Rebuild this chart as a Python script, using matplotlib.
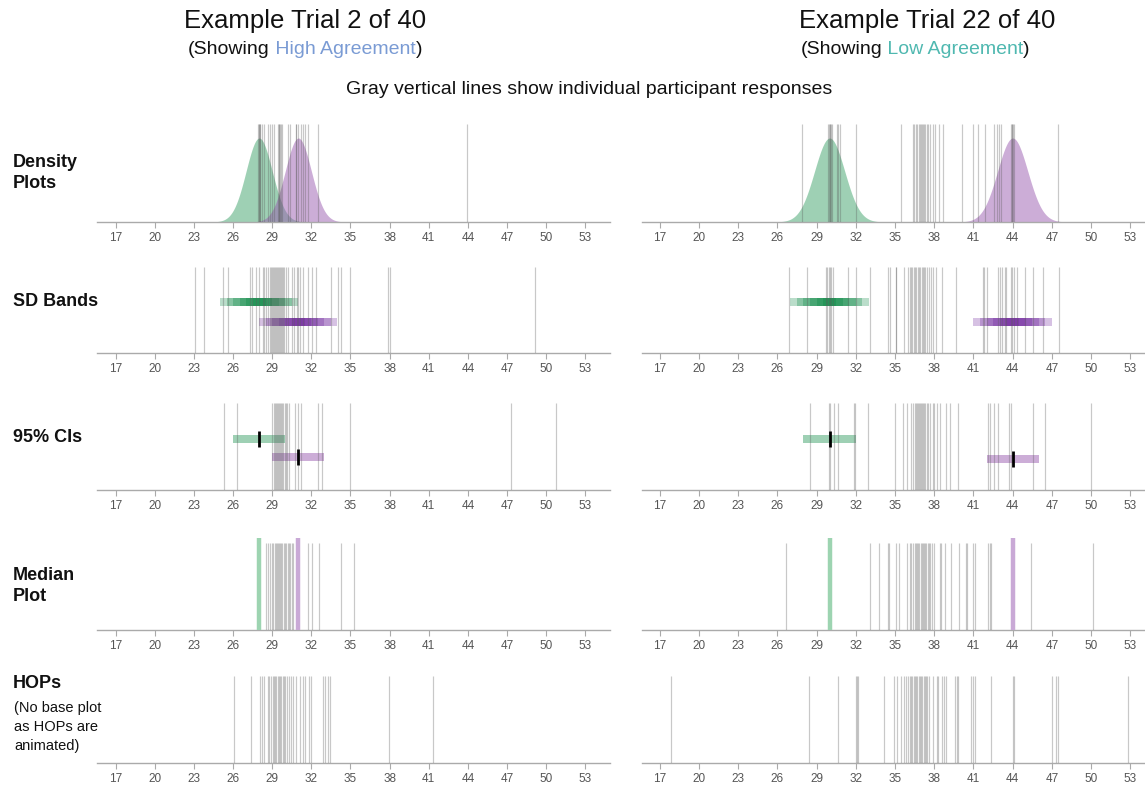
import numpy as np
import matplotlib
matplotlib.use("Agg")
import matplotlib.pyplot as plt
from matplotlib.offsetbox import TextArea, HPacker, AnnotationBbox

FONT = ["Liberation Sans", "DejaVu Sans"]
plt.rcParams["font.family"] = FONT

# ---------------- data ----------------
ticks = list(range(17, 54, 3))

# model distributions (green = A, purple = B)
left_means = [28, 31]
right_means = [30, 44]
left_sd = [1.0, 1.0]
right_sd = [1.15, 1.15]
left_ci = [(26, 30), (29, 33)]
right_ci = [(28, 32), (42, 46)]
left_medians = [28, 31]
right_medians = [30, 44]

# participant responses (gray lines)
left_density_resp = [27.92, 27.96, 28.0, 28.05, 28.1, 28.2, 28.4, 28.7, 28.85, 28.95, 29.15, 29.45,
                     29.5, 29.55, 29.6, 29.65, 29.72, 30.2, 30.38, 30.8, 30.85, 30.95, 31.2, 31.36,
                     31.52, 31.72, 32.54, 43.96]
right_density_resp = [27.92, 29.86, 29.95, 30.0, 30.05, 30.1, 30.2, 30.55, 30.67, 30.8, 32.03, 35.49,
                      36.36, 36.46, 36.57, 36.67, 36.8, 36.92, 37.0, 37.05, 37.12, 37.18, 37.31, 37.43,
                      37.56, 37.69, 37.89, 38.07, 38.4, 38.66, 40.14, 40.93, 41.31, 41.9, 42.59, 42.79,
                      42.97, 43.1, 43.86, 43.92, 43.96, 44.02, 44.07, 47.48]
left_sd_resp = [23.11, 23.8, 25.25, 25.64, 27.32, 27.43, 27.78, 28.01, 28.27, 28.4, 28.53, 28.65, 28.83,
                28.9, 28.98, 29.05, 29.12, 29.2, 29.28, 29.35, 29.43, 29.5, 29.58, 29.65, 29.72, 29.8,
                29.9, 30.03, 30.24, 30.49, 30.7, 30.88, 31.0, 31.11, 31.36, 31.72, 32.08, 32.39, 33.53,
                34.07, 34.25, 34.99, 37.9, 38.03, 49.17]
right_sd_resp = [26.9, 28.25, 29.73, 29.83, 29.93, 30.04, 30.14, 30.29, 31.39, 32.03, 33.05, 34.45, 34.65,
                 35.04, 35.11, 35.65, 36.03, 36.13, 36.23, 36.33, 36.43, 36.53, 36.63, 36.73, 36.83,
                 36.93, 37.03, 37.13, 37.23, 37.33, 37.43, 37.59, 37.74, 37.89, 38.12, 38.58, 39.7,
                 41.74, 41.8, 42.05, 42.89, 43.05, 43.22, 43.4, 43.48, 43.86, 43.96, 44.12, 44.3,
                 44.91, 45.57, 46.34, 47.56]
left_ci_resp = [25.31, 26.3, 29.01, 29.1, 29.18, 29.27, 29.35, 29.44, 29.52, 29.6, 29.69, 29.77, 29.86,
                29.95, 30.03, 30.16, 30.31, 30.75, 31.0, 31.21, 32.54, 32.84, 34.99, 47.31, 50.78]
right_ci_resp = [28.53, 29.96, 30.06, 30.37, 30.67, 31.9, 31.97, 32.94, 35.01, 35.62, 35.9, 36.21, 36.41,
                 36.5, 36.58, 36.66, 36.75, 36.83, 36.92, 37.0, 37.08, 37.17, 37.25, 37.33, 37.42,
                 37.56, 37.69, 37.94, 38.02, 38.2, 38.45, 38.91, 39.17, 39.78, 42.08, 42.28, 42.59,
                 42.84, 43.73, 43.89, 45.52, 46.49, 49.98]
left_median_resp = [28.55, 28.68, 28.81, 28.96, 29.09, 29.24, 29.3, 29.37, 29.44, 29.51, 29.58, 29.65,
                    29.73, 29.88, 29.98, 30.08, 30.18, 30.28, 30.38, 30.49, 30.6, 31.77, 32.05, 32.59,
                    34.28, 35.3]
right_median_resp = [26.69, 33.05, 33.81, 34.45, 34.53, 35.06, 35.34, 35.9, 36.11, 36.21, 36.41, 36.5,
                     36.59, 36.68, 36.77, 36.86, 36.95, 37.04, 37.13, 37.22, 37.31, 37.4, 37.49, 37.58,
                     37.69, 37.82, 38.0, 38.45, 38.53, 38.86, 39.3, 39.86, 40.42, 40.49, 41.0, 41.08,
                     42.15, 42.23, 42.36, 45.37, 50.11]
left_hops_resp = [26.05, 27.38, 28.04, 28.19, 28.4, 28.64, 28.79, 28.94, 29.03, 29.13, 29.22, 29.32,
                  29.41, 29.51, 29.6, 29.7, 29.79, 29.89, 29.99, 30.14, 30.29, 30.44, 30.62, 30.8,
                  31.14, 31.35, 31.53, 31.8, 31.95, 32.91, 33.06, 33.3, 33.45, 37.96, 41.3]
right_hops_resp = [17.84, 28.44, 30.67, 32.0, 32.08, 32.15, 34.14, 34.96, 35.14, 35.45, 35.66, 35.83,
                   35.99, 36.14, 36.23, 36.33, 36.42, 36.52, 36.61, 36.71, 36.8, 36.9, 36.99, 37.09,
                   37.18, 37.28, 37.37, 37.47, 37.57, 37.88, 38.21, 38.31, 38.59, 38.72, 38.93, 39.59,
                   39.72, 39.85, 40.82, 40.97, 41.08, 42.33, 44.02, 44.07, 47.04, 47.34, 47.47, 52.84]

row_labels = ["Density\nPlots", "SD Bands", "95% CIs", "Median\nPlot", "HOPs"]

# ---------------- style ----------------
W, H = 1145, 788
GREEN_FILL = "#3fa36b"
PURPLE_FILL = "#9a5cb0"
GREEN_DARK = "#00843d"
PURPLE_DARK = "#6a1b9a"
GREEN_MED = "#9dd4b1"
PURPLE_MED = "#c9a9d6"
GRAY = "#5a5a5a"

fig = plt.figure(figsize=(W / 100, H / 100), dpi=100)

rows = [(124, 222), (267, 353), (403, 490), (538, 630), (676, 763)]
cols = [(97, 610, 15.57, 54.89), (642, 1145, 15.65, 54.12)]


def make_ax(col, row):
    x0, x1, lo, hi = cols[col]
    yt, yb = rows[row]
    ax = fig.add_axes([x0 / W, 1 - yb / H, (x1 - x0) / W, (yb - yt) / H])
    ax.set_xlim(lo, hi)
    ax.set_ylim(0, 1)
    for s in ["left", "right", "top"]:
        ax.spines[s].set_visible(False)
    ax.spines["bottom"].set_color("#aaaaaa")
    ax.spines["bottom"].set_linewidth(1)
    ax.set_yticks([])
    ax.set_xticks(ticks)
    ax.tick_params(axis="x", length=4, color="#aaaaaa", labelsize=8.5,
                   labelcolor="#555555", pad=3)
    return ax


def resp_lines(ax, vals, top=1.0):
    ax.vlines(vals, 0, top, color=GRAY, alpha=0.33, lw=0.85, zorder=3)


data = [
    dict(means=left_means, sd=left_sd, ci=left_ci, med=left_medians,
         resp=[left_density_resp, left_sd_resp, left_ci_resp, left_median_resp, left_hops_resp],
         ci_y=(0.586, 0.379)),
    dict(means=right_means, sd=right_sd, ci=right_ci, med=right_medians,
         resp=[right_density_resp, right_sd_resp, right_ci_resp, right_median_resp, right_hops_resp],
         ci_y=(0.586, 0.356)),
]

for c, d in enumerate(data):
    # density
    ax = make_ax(c, 0)
    xs = np.linspace(cols[c][2], cols[c][3], 600)
    for m, s, col in zip(d["means"], d["sd"], [GREEN_FILL, PURPLE_FILL]):
        ys = 0.857 * np.exp(-0.5 * ((xs - m) / s) ** 2)
        ax.fill_between(xs, 0, ys, color=col, alpha=0.5, lw=0, zorder=2)
    resp_lines(ax, d["resp"][0])

    # SD bands
    ax = make_ax(c, 1)
    for m, col, y in zip(d["means"], [GREEN_DARK, PURPLE_DARK], [0.593, 0.36]):
        for k in range(1, 7):
            half = 0.5 * k
            ax.barh(y, 2 * half, left=m - half, height=0.093, color=col, alpha=0.27,
                    lw=0, zorder=2)
    resp_lines(ax, d["resp"][1])

    # CIs
    ax = make_ax(c, 2)
    for (lo, hi), m, col, y in zip(d["ci"], d["means"], [GREEN_FILL, PURPLE_FILL], d["ci_y"]):
        ax.barh(y, hi - lo, left=lo, height=0.092, color=col, alpha=0.5, lw=0, zorder=2)
        ax.vlines(m, y - 0.092, y + 0.092, color="black", lw=2, zorder=5)
    resp_lines(ax, d["resp"][2])

    # Median
    ax = make_ax(c, 3)
    for m, col in zip(d["med"], [GREEN_MED, PURPLE_MED]):
        ax.vlines(m, 0, 1, color=col, lw=3.2, zorder=4)
    resp_lines(ax, d["resp"][3], top=0.946)

    # HOPs
    ax = make_ax(c, 4)
    resp_lines(ax, d["resp"][4])

# ---------------- text ----------------
def fy(y):
    return 1 - y / H


fig.text(305 / W, fy(21), "Example Trial 2 of 40", ha="center", va="center", fontsize=18.5, color="#111111")
fig.text(927 / W, fy(21), "Example Trial 22 of 40", ha="center", va="center", fontsize=18.5, color="#111111")


def colored_line(parts, x, y, size=14):
    boxes = [TextArea(t, textprops=dict(color=col, fontsize=size, family=FONT)) for t, col in parts]
    pack = HPacker(children=boxes, align="baseline", pad=0, sep=0)
    ab = AnnotationBbox(pack, (x / W, fy(y)), xycoords="figure fraction", frameon=False,
                        box_alignment=(0.5, 0.5), pad=0)
    fig.add_artist(ab)


colored_line([("(Showing", "#111111"), (" High Agreement", "#7a9bd4"), (")", "#111111")], 305, 49)
colored_line([("(Showing", "#111111"), (" Low Agreement", "#4fb8b0"), (")", "#111111")], 915, 49)

fig.text(589 / W, fy(89), "Gray vertical lines show individual participant responses",
         ha="center", va="center", fontsize=14, color="#111111")

label_y = [173, 302, 438, 586, 684]
for lab, y in zip(row_labels, label_y):
    fig.text(13 / W, fy(y), lab, ha="left", va="center", fontsize=13, fontweight="bold",
             color="#111111", linespacing=1.35)
fig.text(14 / W, fy(727), "(No base plot\nas HOPs are\nanimated)", ha="left", va="center",
         fontsize=10.5, color="#111111", linespacing=1.45)

fig.savefig("out.png", dpi=100)
